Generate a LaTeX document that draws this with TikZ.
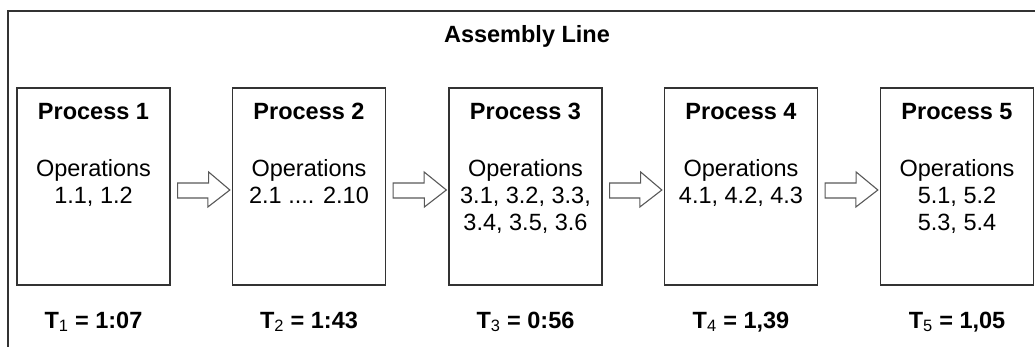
\documentclass[tikz,border=0pt]{standalone}
\usepackage{fontspec}
\setmainfont{Liberation Sans}
\begin{document}
\begin{tikzpicture}[x=1pt,y=-1pt,
  procbox/.style={draw=black!80, line width=1.3pt, minimum width=153pt, minimum height=197pt, inner sep=0pt},
  txt/.style={anchor=base, inner sep=0pt, font=\fontsize{23.5}{27}\selectfont},
  btxt/.style={txt, font=\fontsize{23.5}{27}\selectfont\bfseries},
  fatarrow/.style={draw=black!65, line width=1.1pt, fill=white, line join=miter}
]
\useasboundingbox (0,0) rectangle (1035,347);
% outer frame (cropped at right and bottom)
\coordinate (fbl) at (8,350);
\coordinate (ftl) at (8,11);
\coordinate (ftr) at (1040,11);
\draw[black!80, line width=1.3pt] (fbl) -- (ftl) -- (ftr);
\node[btxt] (title) at (527,43) {Assembly Line};
% boxes
\foreach \i/\x in {1/93.5, 2/309, 3/525.5, 4/741, 5/957} {
  \node[procbox] (p\i) at (\x,186.5) {};
  \node[btxt] (h\i) at (\x,120) {Process \i};
  \node[txt] (o\i) at (\x,177) {Operations};
}
\node[txt] (l1a) at (93.5,204) {1.1, 1.2};
\node[txt] (l2a) at (309,204) {2.1 .... 2.10};
\node[txt] (l3a) at (525.5,204) {3.1, 3.2, 3.3,};
\node[txt] (l3b) at (525.5,231) {3.4, 3.5, 3.6};
\node[txt] (l4a) at (741,204) {4.1, 4.2, 4.3};
\node[txt] (l5a) at (957,204) {5.1, 5.2};
\node[txt] (l5b) at (957,231) {5.3, 5.4};
% times
\node[btxt] (t1) at (93.5,328) {T\textsubscript{\mdseries 1} = 1:07};
\node[btxt] (t2) at (309,328) {T\textsubscript{\mdseries 2} = 1:43};
\node[btxt] (t3) at (525.5,328) {T\textsubscript{\mdseries 3} = 0:56};
\node[btxt] (t4) at (741,328) {T\textsubscript{\mdseries 4} = 1,39};
\node[btxt] (t5) at (957,328) {T\textsubscript{\mdseries 5} = 1,05};
% arrows
\foreach \a/\b in {1/2, 2/3, 3/4, 4/5} {
  \draw[fatarrow] ([shift={(7,-3.5)}]p\a.east) -- ([shift={(38,-3.5)}]p\a.east)
    -- ([shift={(38,-14.5)}]p\a.east) -- ([shift={(-2,3.5)}]p\b.west)
    -- ([shift={(-24,20.5)}]p\b.west) -- ([shift={(-24,11.5)}]p\b.west)
    -- ([shift={(7,11.5)}]p\a.east) -- cycle;
}
\end{tikzpicture}
\end{document}
